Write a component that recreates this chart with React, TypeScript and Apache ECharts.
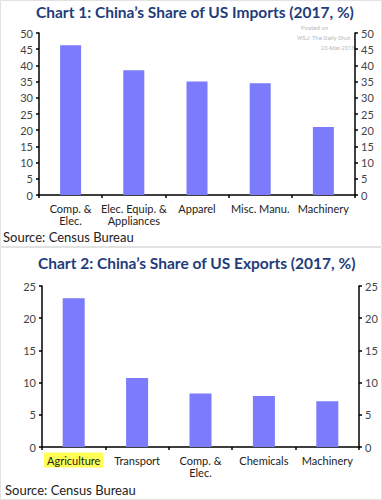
import React, { useEffect, useRef } from "react";
import * as echarts from "echarts";

const importCats = ["Comp. &\nElec.", "Elec. Equip. &\nAppliances", "Apparel", "Misc. Manu.", "Machinery"];
const importVals = [46.2, 38.5, 35.0, 34.5, 21.0];
const exportCats = ["Agriculture", "Transport", "Comp. &\nElec.", "Chemicals", "Machinery"];
const exportVals = [23.1, 10.7, 8.3, 7.9, 7.1];

const FONT = "Lato";
const BAR = "#7b7bfb";
const TITLE = "#1f3d7a";

export default function App() {
  const ref = useRef<HTMLDivElement>(null);
  useEffect(() => {
    document.body.style.margin = "0";
    const chart = echarts.init(ref.current!, null, { renderer: "svg" });
    const yAxisBase = (grid: number, max: number, pos: "left" | "right") => ({
      type: "value",
      gridIndex: grid,
      min: 0,
      max,
      interval: 5,
      position: pos,
      splitLine: { show: false },
      axisLine: { show: true, lineStyle: { color: "#000", width: 1.5 } },
      axisTick: { show: true, inside: false, length: 3, lineStyle: { color: "#000", width: 1.5 } },
      axisLabel: { color: "#444", fontFamily: FONT, fontSize: 11, margin: 6 },
    });
    const xAxisBase = (grid: number, data: string[], rich?: any) => ({
      type: "category",
      gridIndex: grid,
      data,
      axisLine: { show: true, lineStyle: { color: "#000", width: 1.5 } },
      axisTick: { show: true, length: 3, lineStyle: { color: "#000", width: 1.5 } },
      axisLabel: {
        color: "#222",
        fontFamily: FONT,
        fontSize: 11,
        lineHeight: 12,
        margin: 7,
        interval: 0,
        ...(rich || {}),
      },
    });
    chart.setOption({
      animation: false,
      backgroundColor: "#ffffff",
      grid: [
        { left: 39, right: 27, top: 33, height: 162 },
        { left: 42, right: 23, top: 286, height: 161 },
      ],
      xAxis: [
        xAxisBase(0, importCats),
        xAxisBase(1, exportCats, {
          formatter: (v: string) => (v === "Agriculture" ? "{hl|" + v + "}" : v),
          rich: {
            hl: {
              backgroundColor: "#ffff55",
              padding: [2, 3, 2, 3],
              color: "#222",
              fontFamily: FONT,
              fontSize: 11,
            },
          },
        }),
      ],
      yAxis: [
        yAxisBase(0, 50, "left"),
        yAxisBase(0, 50, "right"),
        yAxisBase(1, 25, "left"),
        yAxisBase(1, 25, "right"),
      ],
      series: [
        {
          type: "bar",
          xAxisIndex: 0,
          yAxisIndex: 0,
          data: importVals,
          barWidth: 21,
          itemStyle: { color: BAR },
        },
        {
          type: "bar",
          xAxisIndex: 1,
          yAxisIndex: 2,
          data: exportVals,
          barWidth: 22,
          itemStyle: { color: BAR },
        },
      ],
      graphic: [
        {
          type: "rect",
          z: -10,
          shape: { x: 0.5, y: 0.5, width: 381, height: 246 },
          style: { fill: "#fff", stroke: "#e2e2e2", lineWidth: 1 },
          silent: true,
        },
        {
          type: "rect",
          z: -10,
          shape: { x: 0.5, y: 247.5, width: 381, height: 252 },
          style: { fill: "#fff", stroke: "#e2e2e2", lineWidth: 1 },
          silent: true,
        },
        {
          type: "text",
          left: 36,
          top: 4,
          style: {
            text: "Chart 1: China\u2019s Share of US Imports (2017, %)",
            fill: TITLE,
            font: "bold 15.5px Lato",
          },
        },
        {
          type: "text",
          left: 38,
          top: 255,
          style: {
            text: "Chart 2: China\u2019s Share of US Exports (2017, %)",
            fill: TITLE,
            font: "bold 15.5px Lato",
          },
        },
        {
          type: "text",
          left: 3,
          top: 230,
          style: { text: "Source: Census Bureau", fill: "#222", font: "13px " + FONT },
        },
        {
          type: "text",
          left: 5,
          top: 483,
          style: { text: "Source: Census Bureau", fill: "#222", font: "13px " + FONT },
        },
        {
          type: "text",
          left: 301,
          top: 24,
          style: { text: "Posted on", fill: "#bbb", font: "6px Roboto" },
        },
        {
          type: "text",
          left: 297,
          top: 34,
          style: { text: "WSJ: The Daily Shot", fill: "#bbb", font: "6px Roboto" },
        },
        {
          type: "text",
          left: 321,
          top: 44,
          style: { text: "23-Mar-2018", fill: "#bbb", font: "6px Roboto" },
        },
      ],
    });
    return () => chart.dispose();
  }, []);
  return <div ref={ref} style={{ width: 382, height: 500 }} />;
}
